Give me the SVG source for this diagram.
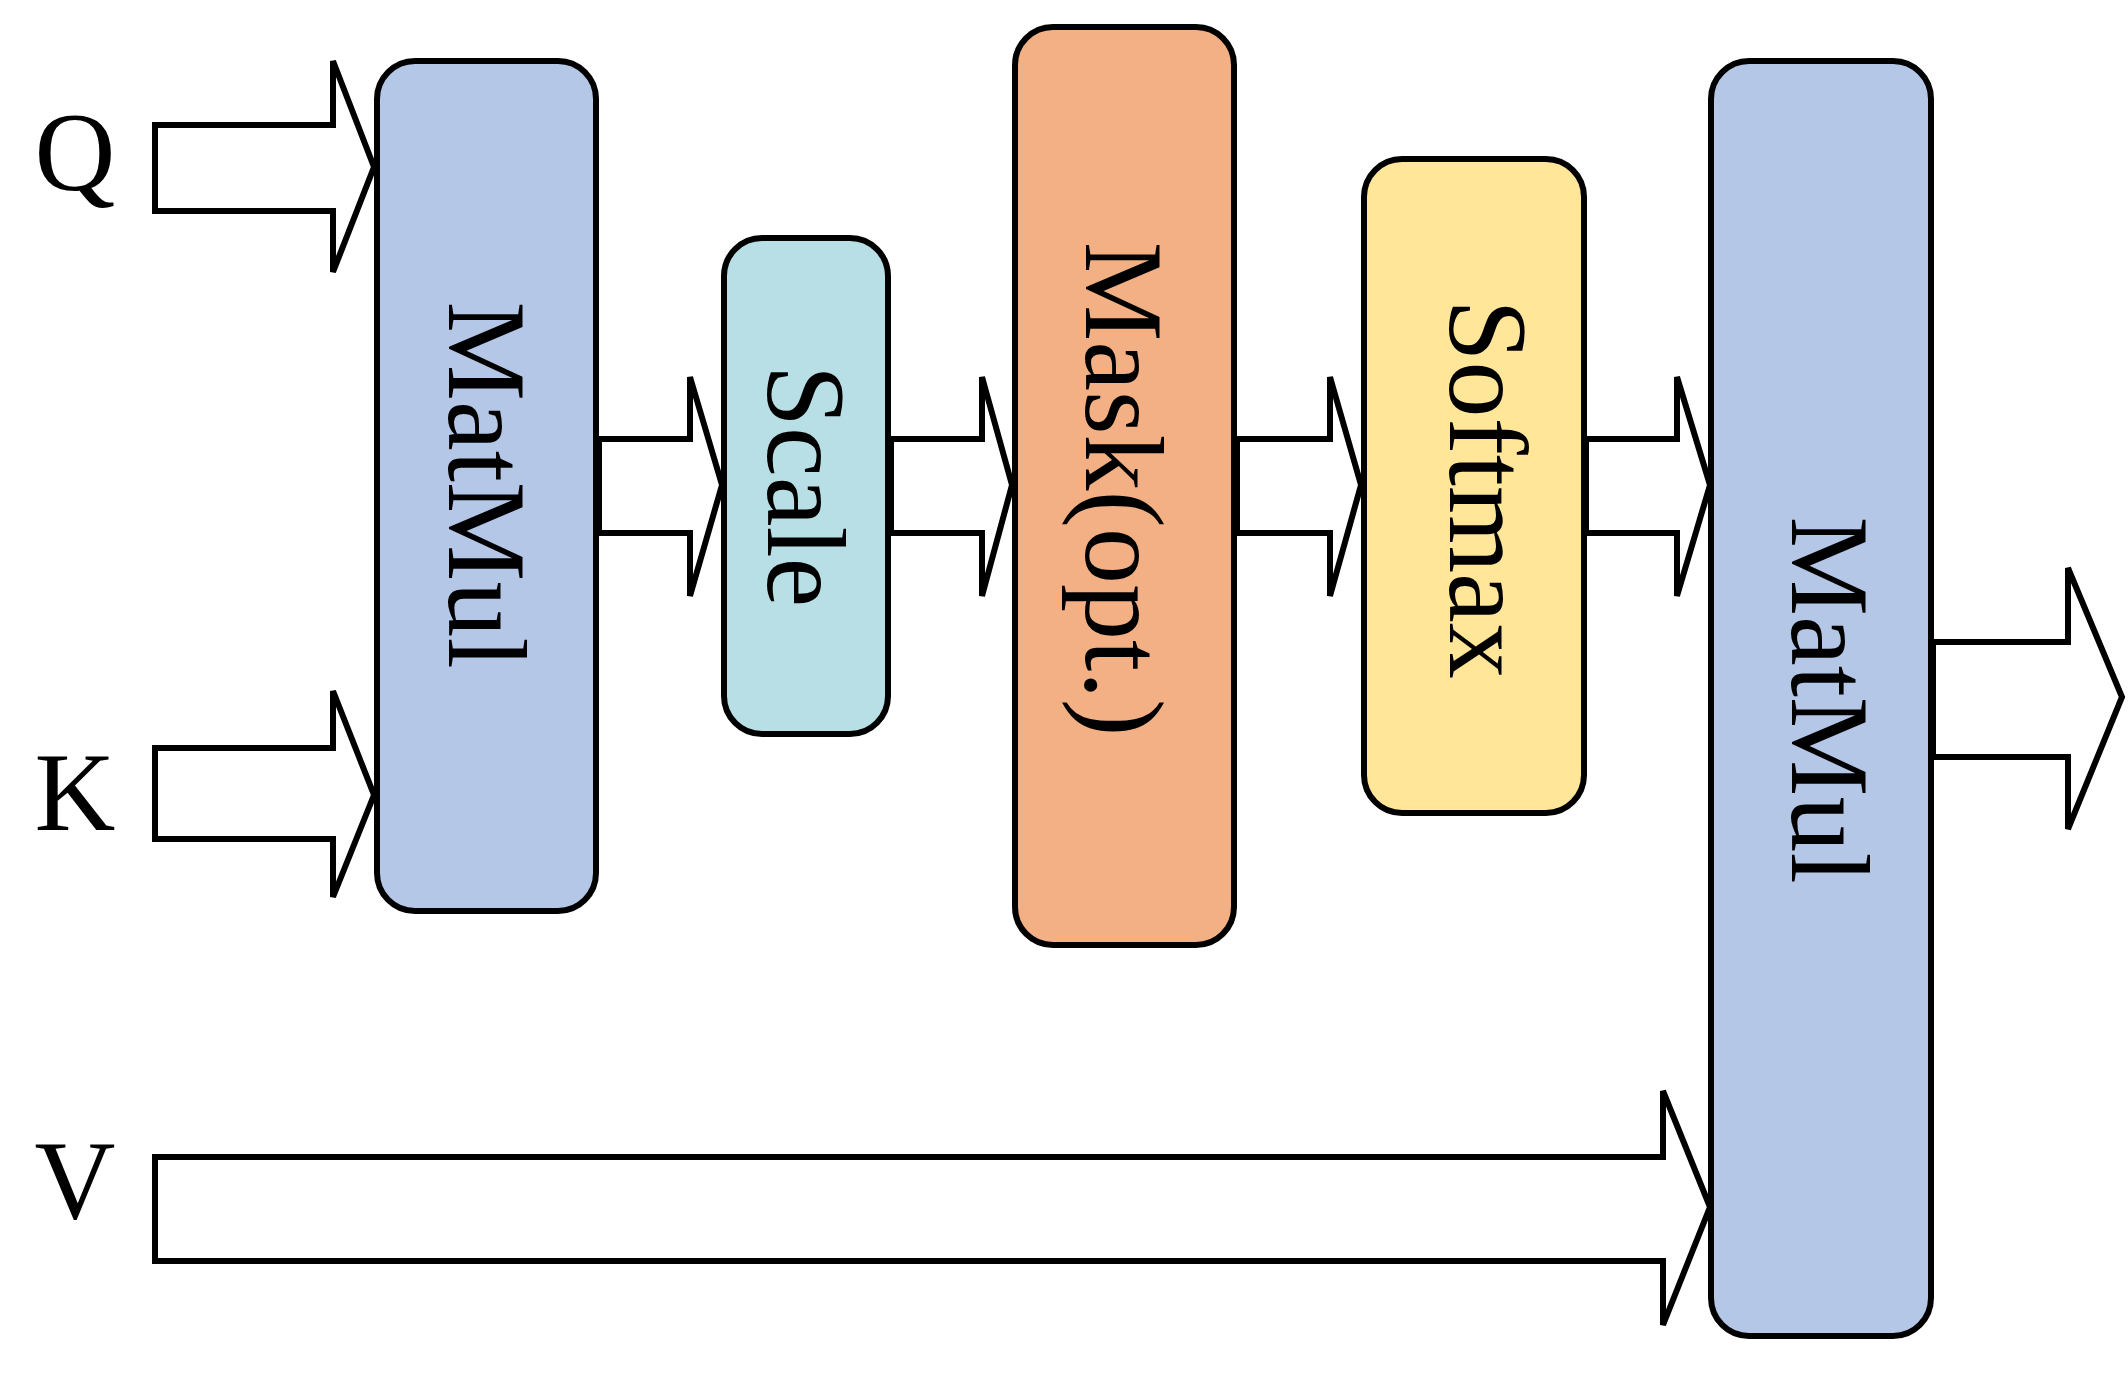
<svg xmlns="http://www.w3.org/2000/svg" width="2128" height="1373" viewBox="0 0 2128 1373">
<style>
.n{stroke:#000;stroke-width:6}
.a{fill:#fff;stroke:#000;stroke-width:6;stroke-linejoin:miter}
.t{font-family:"Liberation Serif",serif;font-size:112px;text-anchor:middle;dominant-baseline:central}
.l{font-family:"Liberation Serif",serif;font-size:112px;text-anchor:middle}
</style>
<rect width="2128" height="1373" fill="#fff"/>
<g id="connectors">
<polygon class="a" points="155,125 333,125 333,61 374,167 333,272 333,211 155,211"/>
<polygon class="a" points="155,748 333,748 333,691 374,795 333,897 333,839 155,839"/>
<polygon class="a" points="599,439 690,439 690,377 722,485 690,596 690,533 599,533"/>
<polygon class="a" points="891,439 982,439 982,377 1012,485 982,596 982,533 891,533"/>
<polygon class="a" points="1237,439 1330,439 1330,377 1361,485 1330,596 1330,533 1237,533"/>
<polygon class="a" points="1586,439 1677,439 1677,377 1710,485 1677,596 1677,533 1586,533"/>
<polygon class="a" points="1933,642 2068,642 2068,568 2122,697 2068,829 2068,757 1933,757"/>
<polygon class="a" points="155,1157 1663,1157 1663,1091 1710,1207 1663,1325 1663,1261 155,1261"/>
</g>
<g id="Q"><text class="l" x="75" y="190">Q</text></g>
<g id="K"><text class="l" x="75" y="830">K</text></g>
<g id="V"><text class="l" x="75" y="1218">V</text></g>
<g id="matmul1"><rect class="n" x="377" y="61" width="219" height="850" rx="38" fill="#b4c7e7"/><text class="t" transform="translate(487,485) rotate(90)">MatMul</text></g>
<g id="scale"><rect class="n" x="724" y="238" width="164" height="496" rx="38" fill="#b8dee6"/><text class="t" transform="translate(806,486) rotate(90)">Scale</text></g>
<g id="mask"><rect class="n" x="1015" y="27" width="219" height="918" rx="38" fill="#f2b084"/><text class="t" transform="translate(1124,489) rotate(90)">Mask(opt.)</text></g>
<g id="softmax"><rect class="n" x="1364" y="159" width="220" height="654" rx="38" fill="#ffe699"/><text class="t" transform="translate(1488,489) rotate(90)">Softmax</text></g>
<g id="matmul2"><rect class="n" x="1711" y="61" width="220" height="1275" rx="38" fill="#b4c7e7"/><text class="t" transform="translate(1830,700) rotate(90)">MatMul</text></g>
</svg>
